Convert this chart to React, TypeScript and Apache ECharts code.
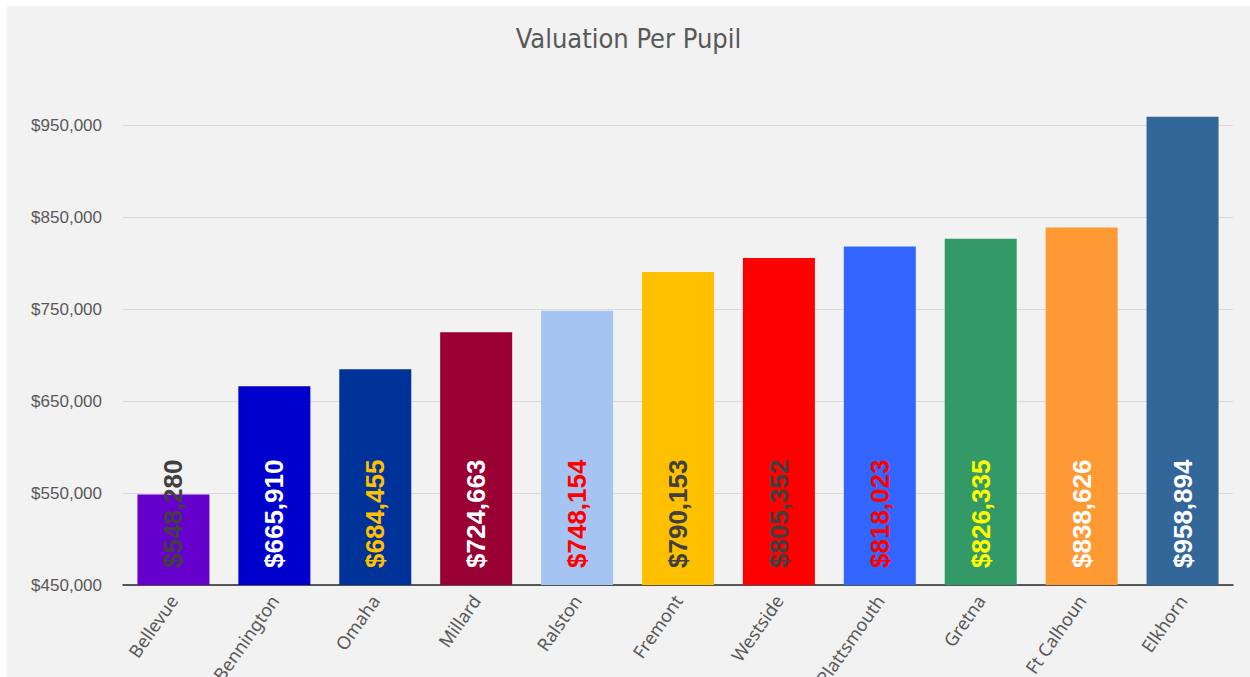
import React, { useEffect, useRef } from "react";
import * as echarts from "echarts";

const categories = ["Bellevue", "Bennington", "Omaha", "Millard", "Ralston", "Fremont", "Westside", "Plattsmouth", "Gretna", "Ft Calhoun", "Elkhorn"];
const values = [548280, 665910, 684455, 724663, 748154, 790153, 805352, 818023, 826335, 838626, 958894];
const barColors = ["#6600CC", "#0000CC", "#003399", "#990033", "#A6C4F2", "#FFC000", "#FF0000", "#3366FF", "#339966", "#FF9933", "#336699"];
const labelColors = ["#404040", "#FFFFFF", "#FFC000", "#FFFFFF", "#FF0000", "#404040", "#404040", "#FF0000", "#FFFF00", "#FFFFFF", "#FFFFFF"];
const yMin = 450000;
const yMax = 1000000;
const yInterval = 100000;
const title = "Valuation Per Pupil";

const fmt = (v: number) => "$" + v.toLocaleString("en-US");

export default function App() {
  const ref = useRef<HTMLDivElement>(null);
  useEffect(() => {
    document.body.style.margin = "0";
    const chart = echarts.init(ref.current!, null, { renderer: "svg" });
    chart.setOption({
      animation: false,
      backgroundColor: "#F2F2F2",
      title: {
        text: title,
        left: "center",
        top: 14,
        textStyle: { fontFamily: "Liberation Sans Narrow, DejaVu Sans Condensed, sans-serif", fontSize: 27, fontWeight: "normal", color: "#595959" },
      },
      grid: { left: 116, right: 17, top: 73, bottom: 92, containLabel: false, outerBoundsMode: "none" },
      xAxis: {
        type: "category",
        data: categories,
        axisLine: { lineStyle: { color: "#262626", width: 1.5 } },
        axisTick: { show: false },
        axisLabel: {
          rotate: 55,
          interval: 0,
          margin: 12,
          fontFamily: "Noto Sans, sans-serif",
          fontSize: 18,
          color: "#595959",
        },
      },
      yAxis: {
        type: "value",
        min: yMin,
        max: yMax,
        interval: yInterval,
        axisLine: { show: false },
        axisTick: { show: false },
        axisLabel: {
          margin: 21,
          showMaxLabel: false,
          formatter: (v: number) => fmt(v),
          fontFamily: "Liberation Sans, Arial, sans-serif",
          fontSize: 17,
          color: "#595959",
        },
        splitLine: { showMaxLine: false, lineStyle: { color: "#D9D9D9", width: 1 } },
      },
      series: [
        {
          type: "bar",
          barWidth: 72,
          data: values.map((v, i) => ({
            value: v,
            itemStyle: { color: barColors[i] },
            label: { color: labelColors[i] },
          })),
          label: {
            show: true,
            position: "insideBottom",
            rotate: 90,
            align: "left",
            verticalAlign: "middle",
            distance: 17,
            formatter: (p: any) => fmt(p.value),
            fontFamily: "Liberation Sans, Arial, sans-serif",
            fontSize: 26,
            fontWeight: "bold",
          },
        },
      ],
    });
    return () => chart.dispose();
  }, []);
  return (
    <div style={{ position: "relative", width: 1250, height: 677, background: "#FFFFFF" }}>
      <div ref={ref} style={{ position: "absolute", left: 7, top: 6, width: 1243, height: 671 }} />
    </div>
  );
}
